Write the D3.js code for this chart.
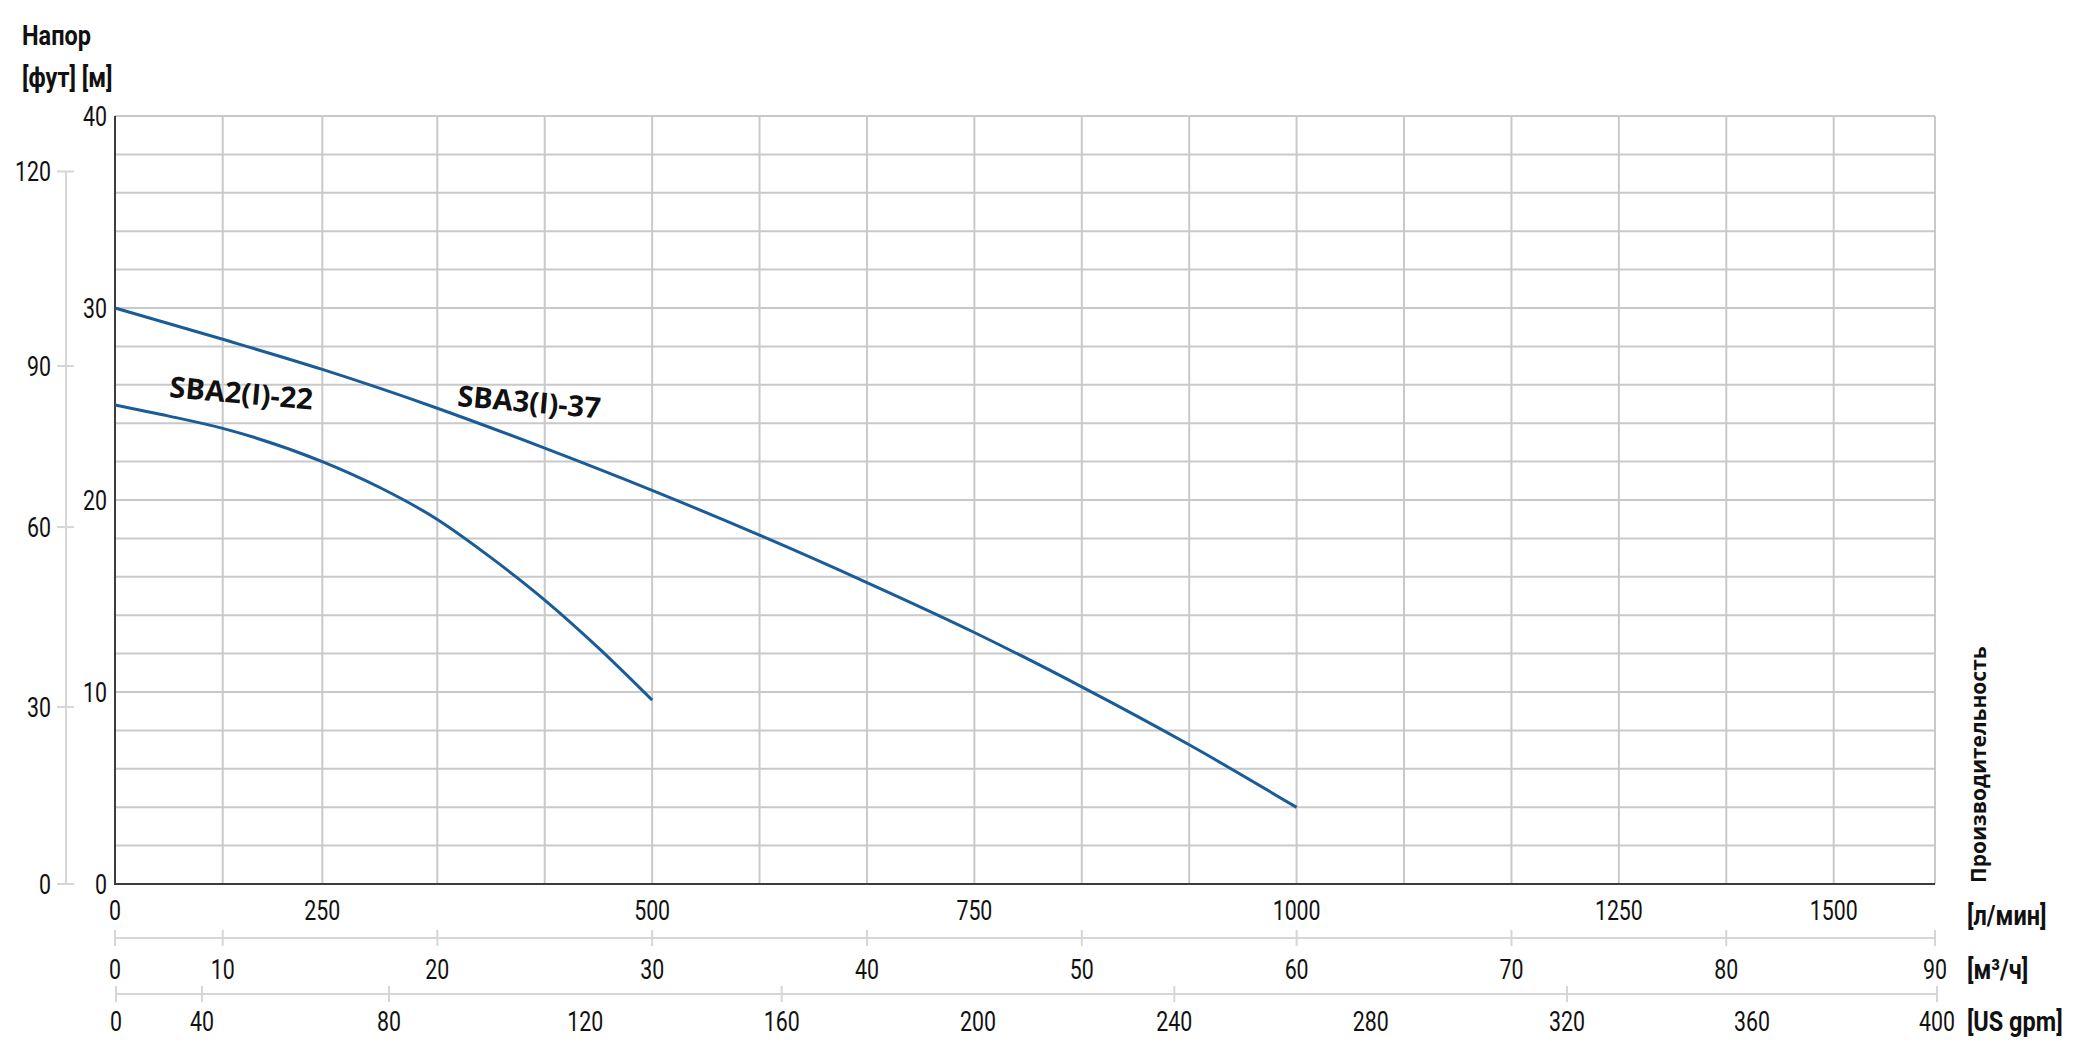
<!DOCTYPE html>
<html><head><meta charset="utf-8">
<script src="https://cdn.jsdelivr.net/npm/d3@7"></script>
<style>
html,body{margin:0;padding:0;background:#fff;}
svg{display:block;background:#fff;}
.num{font-family:Roboto,'Noto Sans',sans-serif;font-size:27px;fill:#111;}
.unit{font-family:Roboto,'Noto Sans',sans-serif;font-weight:bold;font-size:28px;fill:#111;}
.curveLabel{font-family:'Open Sans','Noto Sans',sans-serif;font-weight:bold;font-size:29px;fill:#111;}
.vtitle{font-family:'Open Sans','Noto Sans',sans-serif;font-weight:bold;font-size:21px;fill:#111;}
</style></head><body>
<svg id="chart" width="2079" height="1063"></svg>
<script>
// ---------- data ----------
const headMTicks   = [0, 10, 20, 30, 40];
const headFtTicks  = [0, 30, 60, 90, 120];
const flowLminTicks = [0, 250, 500, 750, 1000, 1250, 1500];
const flowM3hTicks  = [0, 10, 20, 30, 40, 50, 60, 70, 80, 90];
const flowGpmTicks  = [0, 40, 80, 120, 160, 200, 240, 280, 320, 360, 400];

const seriesNames = ['SBA2(I)-22', 'SBA3(I)-37'];
const sba2Flow = [0, 5, 10, 15, 17.5, 20, 22.5, 25, 27.5, 30];          // m3/h
const sba2Head = [24.95, 24.37, 23.73, 22.0, 20.65, 18.99, 17.0, 14.79, 12.3, 9.58]; // m
const sba3Flow = [0, 10, 15, 20, 25, 30, 35, 40, 45, 50, 55, 60];        // m3/h
const sba3Head = [30.0, 28.37, 26.8, 24.78, 22.7, 20.5, 18.17, 15.7, 13.1, 10.27, 7.25, 3.99]; // m
const labelFlow = [5.0, 20.9];
const labelHead = [25.36, 24.9];

const titleHead = 'Напор';
const titleHeadUnits = '[фут] [м]';
const titleFlow = 'Производительность';
const unitLmin = '[л/мин]';
const unitM3h = '[м³/ч]';
const unitGpm = '[US gpm]';

// ---------- layout ----------
const L = 115, R = 1935, T = 116, B = 884;
const NUM_SX = 0.79, UNIT_SX = 0.84;
const svg = d3.select('#chart');

// main flow scale in m3/h (first grid cell spans 10 m3/h, the rest 5 m3/h)
const x = d3.scaleLinear().domain([0, 10, 15, 20, 85, 90]).range([L, 222.7, 322.3, 437.3, 1833.7, R]);
const y = d3.scaleLinear().domain([0, 40]).range([B, T]);
const yFt = d3.scaleLinear().domain(headFtTicks).range([0, 9.22, 18.59, 26.98, 37.11].map(y));
const xLmin = d3.scaleLinear().domain([0, 250, 500, 1250, 1500]).range([0, 15, 30, 75, 85].map(x));
const xGpm = d3.scaleLinear().domain([0, 40, 80, 320, 400]).range([116, 202, 389, 1567, 1937]);

const gridFlow = [10].concat(d3.range(15, 90, 5));
const gridHead = d3.range(2, 41, 2);

const grid = svg.append('g').attr('stroke', '#c9c9c9').attr('stroke-width', 2);
grid.selectAll('line.h').data(gridHead).join('line')
  .attr('x1', L).attr('x2', x(90)).attr('y1', d => y(d)).attr('y2', d => y(d));
grid.selectAll('line.v').data(gridFlow.concat([90])).join('line')
  .attr('x1', d => x(d)).attr('x2', d => x(d)).attr('y1', T).attr('y2', B);

// main axes
svg.append('line').attr('x1', L).attr('x2', L).attr('y1', T).attr('y2', B + 1)
  .attr('stroke', '#3c3c3c').attr('stroke-width', 2);
svg.append('line').attr('x1', L).attr('x2', x(90)).attr('y1', B).attr('y2', B)
  .attr('stroke', '#3c3c3c').attr('stroke-width', 2);

// curves
const line = d3.line().x(d => x(d[0])).y(d => y(d[1])).curve(d3.curveMonotoneX);
const seriesData = [d3.zip(sba2Flow, sba2Head), d3.zip(sba3Flow, sba3Head)];
svg.append('g').selectAll('path').data(seriesData).join('path')
  .attr('d', line).attr('fill', 'none').attr('stroke', '#1a5c98').attr('stroke-width', 3);

// curve labels
svg.append('g').selectAll('text').data(seriesNames).join('text')
  .attr('class', 'curveLabel')
  .attr('transform', (d, i) => `translate(${x(labelFlow[i])},${y(labelHead[i])}) rotate(5)`)
  .text(d => d);

const place = (px, py, sx) => `translate(${px},${py}) scale(${sx},1)`;

// metre labels
svg.append('g').selectAll('text').data(headMTicks).join('text')
  .attr('class', 'num').attr('text-anchor', 'end').attr('dy', '0.36em')
  .attr('transform', d => place(107, y(d), NUM_SX)).text(d => d);

// feet axis
const ftG = svg.append('g');
ftG.append('line').attr('x1', 66).attr('x2', 66).attr('y1', yFt(0)).attr('y2', yFt(120))
  .attr('stroke', '#d6d6d6').attr('stroke-width', 2);
ftG.selectAll('line.t').data(headFtTicks).join('line')
  .attr('x1', 57).attr('x2', 74).attr('y1', d => yFt(d)).attr('y2', d => yFt(d))
  .attr('stroke', '#d6d6d6').attr('stroke-width', 2);
ftG.selectAll('text').data(headFtTicks).join('text')
  .attr('class', 'num').attr('text-anchor', 'end').attr('dy', '0.36em')
  .attr('transform', d => place(51, yFt(d), NUM_SX)).text(d => d);

// l/min labels (no axis line)
svg.append('g').selectAll('text').data(flowLminTicks).join('text')
  .attr('class', 'num').attr('text-anchor', 'middle')
  .attr('transform', d => place(xLmin(d), 920, NUM_SX)).text(d => d);

// m3/h axis
const axY1 = 938;
const m3G = svg.append('g');
m3G.append('line').attr('x1', x(0)).attr('x2', x(90)).attr('y1', axY1).attr('y2', axY1)
  .attr('stroke', '#d6d6d6').attr('stroke-width', 2);
m3G.selectAll('line.t').data(flowM3hTicks).join('line')
  .attr('x1', d => x(d)).attr('x2', d => x(d)).attr('y1', axY1 - 8).attr('y2', axY1 + 8)
  .attr('stroke', '#d6d6d6').attr('stroke-width', 2);
m3G.selectAll('text').data(flowM3hTicks).join('text')
  .attr('class', 'num').attr('text-anchor', 'middle')
  .attr('transform', d => place(x(d), 979, NUM_SX)).text(d => d);

// US gpm axis
const axY2 = 994;
const gG = svg.append('g');
gG.append('line').attr('x1', xGpm(0)).attr('x2', xGpm(400)).attr('y1', axY2).attr('y2', axY2)
  .attr('stroke', '#d6d6d6').attr('stroke-width', 2);
gG.selectAll('line.t').data(flowGpmTicks.filter((d, i) => i % 2 === 0 || d === 40)).join('line')
  .attr('x1', d => xGpm(d)).attr('x2', d => xGpm(d)).attr('y1', axY2 - 8).attr('y2', axY2 + 8)
  .attr('stroke', '#d6d6d6').attr('stroke-width', 2);
gG.selectAll('text').data(flowGpmTicks).join('text')
  .attr('class', 'num').attr('text-anchor', 'middle')
  .attr('transform', d => place(xGpm(d), 1031, NUM_SX)).text(d => d);

// titles and units
const unitText = (px, py, s) => svg.append('text').attr('class', 'unit')
  .attr('transform', place(px, py, UNIT_SX)).text(s);
unitText(22, 45, titleHead);
unitText(22, 87, titleHeadUnits);
unitText(1967, 925, unitLmin);
unitText(1967, 979, unitM3h);
unitText(1967, 1031, unitGpm);
svg.append('text').attr('class', 'vtitle')
  .attr('transform', `translate(1986,${B - 1}) rotate(-90)`).text(titleFlow);
</script>
</body></html>
